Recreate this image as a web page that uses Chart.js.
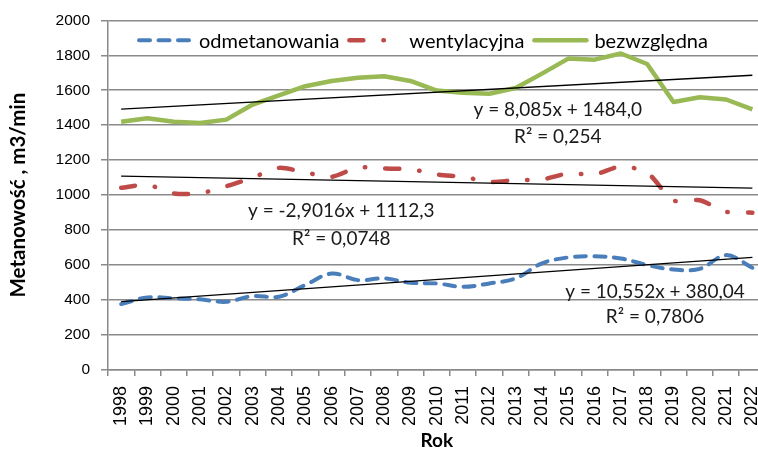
<!DOCTYPE html>
<html>
<head>
<meta charset="utf-8">
<script src="https://cdn.jsdelivr.net/npm/chart.js@4/dist/chart.umd.min.js"></script>
<style>
  html, body { margin: 0; padding: 0; background: #fff; overflow: hidden; }
  #wrap { width: 784px; height: 455px; }
</style>
</head>
<body>
<div id="wrap"><canvas id="myChart" width="784" height="455"></canvas></div>
<script>
// years on the x axis
const years = ['1998','1999','2000','2001','2002','2003','2004','2005','2006','2007','2008','2009',
  '2010','2011','2012','2013','2014','2015','2016','2017','2018','2019','2020','2021','2022'];

// methane emission, m3/min
const odmetanowania = [377, 415, 410, 404, 390, 423, 419, 486, 552, 514, 524, 499,
  495, 476, 495, 524, 610, 644, 651, 638, 600, 575, 578, 657, 585];
const wentylacyjna = [1042, 1059, 1010, 1011, 1051, 1100, 1156, 1130, 1105, 1158, 1152, 1149,
  1118, 1105, 1076, 1086, 1090, 1124, 1118, 1165, 1128, 970, 971, 905, 900];
const bezwzgledna = [1420, 1440, 1420, 1413, 1432, 1518, 1571, 1623, 1653, 1672, 1680, 1653,
  1598, 1585, 1580, 1613, 1695, 1781, 1775, 1810, 1750, 1533, 1560, 1547, 1490];

// trend line end values (1998 and 2022)
const trendOdm = [391, 644];
const trendWent = [1109, 1040];
const trendBezw = [1492, 1686];

// trend equations, placed by [category index, value]
const eqTexts = ['y = 8,085x + 1484,0', 'R² = 0,254',
  'y = -2,9016x + 1112,3', 'R² = 0,0748',
  'y = 10,552x + 380,04', 'R² = 0,7806'];
const eqX = [16.6, 16.6, 8.37, 8.37, 20.3, 20.3];
const eqY = [1486, 1333, 910, 752, 447, 301];

const yTicks = [0, 200, 400, 600, 800, 1000, 1200, 1400, 1600, 1800, 2000];

function trendData(ends) {
  const arr = years.map(() => null);
  arr[0] = ends[0];
  arr[arr.length - 1] = ends[1];
  return arr;
}

function trendSet(ends) {
  return {
    label: 'trend',
    isTrend: true,
    data: trendData(ends),
    borderColor: '#000',
    borderWidth: 1.4,
    pointRadius: 0,
    spanGaps: true,
    order: 0
  };
}

const legendPlugin = {
  id: 'insideLegend',
  afterDraw(chart) {
    const ctx = chart.ctx;
    let x = chart.chartArea.left + 29;
    const y = chart.chartArea.top + 20;
    ctx.save();
    ctx.font = '20px Lato';
    ctx.textBaseline = 'middle';
    chart.data.datasets.forEach(ds => {
      if (ds.isTrend) return;
      ctx.strokeStyle = ds.borderColor;
      ctx.lineWidth = ds.borderWidth;
      ctx.lineCap = 'round';
      ctx.setLineDash(ds.borderDash || []);
      ctx.beginPath();
      ctx.moveTo(x + 2, y);
      ctx.lineTo(x + 54, y);
      ctx.stroke();
      ctx.setLineDash([]);
      ctx.fillStyle = '#000';
      ctx.fillText(ds.label, x + 62, y + 1);
      x += 62 + ctx.measureText(ds.label).width + 8;
    });
    ctx.restore();
  }
};

const eqPlugin = {
  id: 'trendEquations',
  afterDraw(chart) {
    const ctx = chart.ctx;
    ctx.save();
    ctx.font = '19px Lato';
    ctx.fillStyle = '#1a1a1a';
    ctx.textAlign = 'center';
    ctx.textBaseline = 'middle';
    eqTexts.forEach((t, i) => {
      ctx.fillText(t, chart.scales.x.getPixelForValue(eqX[i]), chart.scales.y.getPixelForValue(eqY[i]));
    });
    ctx.restore();
  }
};

const data = {
  labels: years,
  datasets: [
    {
      label: 'odmetanowania',
      data: odmetanowania,
      borderColor: '#4A7EBB',
      borderWidth: 4,
      borderDash: [11, 8.5],
      borderCapStyle: 'round',
      tension: 0.35,
      pointRadius: 0,
      order: 1
    },
    {
      label: 'wentylacyjna',
      data: wentylacyjna,
      borderColor: '#BE4B48',
      borderWidth: 4.5,
      borderDash: [14, 20, 0.5, 20],
      borderCapStyle: 'round',
      tension: 0.25,
      pointRadius: 0,
      order: 1
    },
    {
      label: 'bezwzględna',
      data: bezwzgledna,
      borderColor: '#98B954',
      borderWidth: 4.5,
      borderJoinStyle: 'round',
      tension: 0,
      pointRadius: 0,
      order: 1
    },
    trendSet(trendOdm),
    trendSet(trendWent),
    trendSet(trendBezw)
  ]
};

var ctx = document.getElementById('myChart');

var myChart = new Chart(ctx, {
  type: 'line',
  data: data,
  plugins: [legendPlugin, eqPlugin],
  options: {
    responsive: false,
    animation: false,
    devicePixelRatio: 1,
    layout: { padding: { top: 20, right: 1, left: 0, bottom: 0 } },
    plugins: {
      legend: { display: false },
      tooltip: { enabled: false }
    },
    scales: {
      x: {
        offset: true,
        grid: { offset: true, drawOnChartArea: false, color: '#8a8a8a', lineWidth: 1.5, tickLength: 6 },
        border: { color: '#8a8a8a', width: 1.5 },
        ticks: {
          autoSkip: false, minRotation: 90, maxRotation: 90, padding: 10,
          color: '#000', font: { family: 'Liberation Sans', size: 18 }
        },
        title: {
          display: true, text: 'Rok', color: '#000',
          font: { family: 'Lato', size: 19, weight: 'bold' }, padding: { top: 0, bottom: 3 }
        },
        afterFit(scale) { scale.height = 85; }
      },
      y: {
        min: 0,
        max: 2000,
        afterBuildTicks(scale) { scale.ticks = yTicks.map(v => ({ value: v })); },
        grid: { color: '#8a8a8a', lineWidth: 1.5, tickLength: 7 },
        border: { color: '#8a8a8a', width: 1.5 },
        ticks: {
          padding: 11, color: '#000', font: { family: 'Liberation Sans', size: 15.5 },
          callback: v => String(v)
        },
        title: {
          display: true, text: 'Metanowość , m3/min', color: '#000',
          font: { family: 'Lato', size: 20.5, weight: 'bold' }, padding: { top: 6, bottom: 0 }
        },
        afterFit(scale) { scale.width = 108; }
      }
    }
  }
});
</script>
</body>
</html>
